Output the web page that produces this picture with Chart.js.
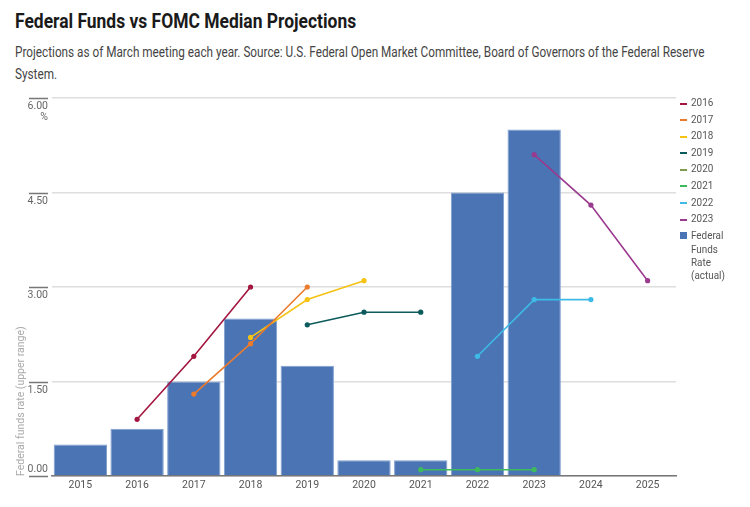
<!DOCTYPE html>
<html>
<head>
<meta charset="utf-8">
<script src="https://cdn.jsdelivr.net/npm/chart.js@4.4.1/dist/chart.umd.min.js"></script>
<style>
  html, body { margin: 0; padding: 0; background: #fff; }
  body { width: 750px; height: 507px; position: relative; overflow: hidden;
         font-family: 'Roboto', sans-serif; }
  #title { position: absolute; left: 15px; top: 9px; font-size: 20px; font-weight: bold; color: #1a1a1a;
           white-space: nowrap; transform: scaleX(0.872); transform-origin: left top; }
  #subtitle { position: absolute; left: 15px; top: 41px; font-size: 14px; line-height: 22px; color: #444;
              white-space: nowrap; transform: scaleX(0.84); transform-origin: left top; }
  #chart { position: absolute; left: 0; top: 0; }
  #legend { position: absolute; left: 680px; top: 95px; font-size: 11px; color: #555; }
  .item { position: relative; height: 16.6px; line-height: 16.6px; padding-left: 11px; }
  .txt { display: inline-block; transform: scaleX(0.9); transform-origin: left center; }
  .sw { position: absolute; left: 0; top: 7.5px; width: 7px; height: 2px; }
  .sq { position: absolute; left: 0; top: 4px; width: 7px; height: 7px; }
  .multi { line-height: 13.3px; padding-top: 1.5px; }
</style>
</head>
<body>
<div id="title">Federal Funds vs FOMC Median Projections</div>
<div id="subtitle">Projections as of March meeting each year. Source: U.S. Federal Open Market Committee, Board of Governors of the Federal Reserve<br>System.</div>
<canvas id="chart" width="750" height="507"></canvas>
<div id="legend"></div>
<script>
const categories = ['2015','2016','2017','2018','2019','2020','2021','2022','2023','2024','2025'];
const fedFundsRate = [0.5, 0.75, 1.5, 2.5, 1.75, 0.25, 0.25, 4.5, 5.5, null, null];
const proj2016 = [null, 0.9, 1.9, 3.0, null, null, null, null, null, null, null];
const proj2017 = [null, null, 1.3, 2.1, 3.0, null, null, null, null, null, null];
const proj2018 = [null, null, null, 2.2, 2.8, 3.1, null, null, null, null, null];
const proj2019 = [null, null, null, null, 2.4, 2.6, 2.6, null, null, null, null];
const proj2020 = [null, null, null, null, null, null, null, null, null, null, null];
const proj2021 = [null, null, null, null, null, null, 0.1, 0.1, 0.1, null, null];
const proj2022 = [null, null, null, null, null, null, null, 1.9, 2.8, 2.8, null];
const proj2023 = [null, null, null, null, null, null, null, null, 5.1, 4.3, 3.1];
const yTicks = [0, 1.5, 3, 4.5, 6];
const yUnit = '%';

const lineSeries = [
  { label: '2016', data: proj2016, color: '#a3163f' },
  { label: '2017', data: proj2017, color: '#ec7a2c' },
  { label: '2018', data: proj2018, color: '#f5c313' },
  { label: '2019', data: proj2019, color: '#0b5a5c' },
  { label: '2020', data: proj2020, color: '#7f9c4e' },
  { label: '2021', data: proj2021, color: '#3dba5c' },
  { label: '2022', data: proj2022, color: '#3dbbe6' },
  { label: '2023', data: proj2023, color: '#9a3a8e' }
];
const barLabel = 'Federal Funds Rate (actual)';
const barColor = '#4a74b4';

const FONT = "'Roboto', sans-serif";

const datasets = lineSeries.map(s => ({
  type: 'line', label: s.label, data: s.data,
  borderColor: s.color, backgroundColor: s.color,
  borderWidth: 1.6, pointRadius: 2.6, pointHoverRadius: 2.6,
  pointBorderWidth: 0, spanGaps: false, order: 1
}));
datasets.push({
  type: 'bar', label: barLabel, data: fedFundsRate,
  backgroundColor: barColor, borderColor: '#7f9fd0', borderWidth: 1,
  barPercentage: 0.94, categoryPercentage: 1.0, order: 2
});

// y-axis tick marks and labels (labels sit under their tick, the zero label sits above it)
const yAxisDecor = {
  id: 'yAxisDecor',
  afterDraw(chart) {
    const y = chart.scales.y, ctx = chart.ctx;
    ctx.save();
    ctx.strokeStyle = '#777';
    ctx.lineWidth = 1.5;
    ctx.fillStyle = '#666';
    ctx.font = '10.5px ' + FONT;
    ctx.textAlign = 'right';
    ctx.textBaseline = 'middle';
    yTicks.forEach(v => {
      const py = Math.round(y.getPixelForValue(v)) + 0.5;
      ctx.beginPath(); ctx.moveTo(29, py); ctx.lineTo(48, py); ctx.stroke();
      const ly = v === 0 ? py - 7 : py + 8;
      ctx.fillText(v.toFixed(2), 48, ly);
    });
    ctx.fillText(yUnit, 48, y.getPixelForValue(yTicks[yTicks.length - 1]) + 19);
    ctx.restore();
  }
};

new Chart(document.getElementById('chart'), {
  data: { labels: categories, datasets },
  options: {
    responsive: false, animation: false,
    layout: { padding: { top: 98, right: 74, bottom: 0, left: 0 } },
    plugins: { legend: { display: false }, tooltip: { enabled: false } },
    scales: {
      x: {
        grid: { display: false, drawTicks: false },
        border: { display: true, color: '#777', width: 1.5 },
        ticks: { color: '#555', font: { family: FONT, size: 10.5 }, padding: 3 },
        afterFit(s) { s.height = 31; }
      },
      y: {
        min: 0, max: 6,
        afterBuildTicks(s) { s.ticks = yTicks.map(v => ({ value: v })); },
        grid: { color: '#dedede', lineWidth: 1.5, drawTicks: false },
        border: { display: false },
        ticks: { display: false },
        title: {
          display: true, text: 'Federal funds rate (upper range)', align: 'start',
          color: '#aaa', font: { family: FONT, size: 10.5 }, padding: { top: 15, bottom: 0 }
        },
        afterFit(s) { s.width = 52; }
      }
    }
  },
  plugins: [yAxisDecor]
});

const legend = document.getElementById('legend');
lineSeries.forEach(s => {
  const d = document.createElement('div');
  d.className = 'item';
  d.innerHTML = '<span class="sw" style="background:' + s.color + '"></span><span class="txt">' + s.label + '</span>';
  legend.appendChild(d);
});
const b = document.createElement('div');
b.className = 'item multi';
b.innerHTML = '<span class="sq" style="background:' + barColor + '"></span><span class="txt">' + barLabel.split(' ').join('<br>') + '</span>';
legend.appendChild(b);
</script>
</body>
</html>
